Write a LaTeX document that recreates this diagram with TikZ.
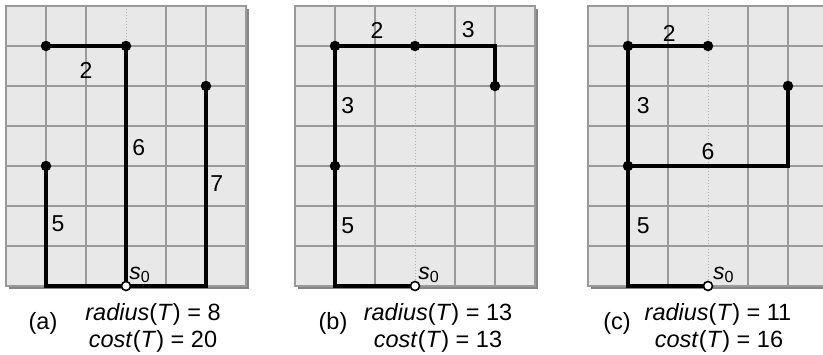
\documentclass[tikz,border=0pt]{standalone}
\usepackage{fontspec}
\setmainfont{Liberation Sans}
\definecolor{cellfill}{HTML}{E8E8E8}
\definecolor{gridgray}{HTML}{9A9A9A}
\definecolor{shadowgray}{HTML}{858585}
\definecolor{dotgray}{HTML}{B4B4B4}
\pgfdeclarelayer{gridlayer}
\pgfdeclarelayer{edgelayer}
\pgfsetlayers{gridlayer,edgelayer,main}
\tikzset{
  gridline/.style={draw=gridgray, line width=1.8pt},
  axisline/.style={draw=dotgray, line width=1pt, dotted},
  dot/.style={circle, fill=black, inner sep=0pt, minimum size=10.5pt},
  rootdot/.style={circle, draw=black, fill=white, line width=1.6pt, inner sep=0pt, minimum size=9pt},
  treeedge/.style={draw=black, line width=4.4pt},
  num/.style={font=\fontsize{23}{23}\selectfont, inner sep=0pt},
  captext/.style={font=\fontsize{23.5}{26}\selectfont, inner sep=0pt, align=center}
}
\newcommand\gridpanel{%
  \begin{pgfonlayer}{gridlayer}
    \fill[shadowgray] (0.08,0.08) rectangle (6.08,7.08);
    \fill[cellfill] (0,0) rectangle (6,7);
    \draw[axisline] (3,0) -- (3,7);
    \foreach \i in {1,2,4,5} \draw[gridline] (\i,0) -- (\i,7);
    \foreach \j in {1,...,6} \draw[gridline] (0,\j) -- (6,\j);
    \draw[gridline] (0,0) rectangle (6,7);
  \end{pgfonlayer}}
\begin{document}
\begin{tikzpicture}[x=1pt,y=-1pt]
\path[use as bounding box, clip] (0,0) rectangle (823,354);

% ---------- (a) ----------
\begin{scope}[shift={(6pt,-6pt)}, x=40pt, y=-40pt]
  \gridpanel
  \node[rootdot] (a-s) at (3,7) {};
  \node[dot] (a-u) at (1,4) {};
  \node[dot] (a-v) at (3,1) {};
  \node[dot] (a-w) at (1,1) {};
  \node[dot] (a-x) at (5,2) {};
  \coordinate (a-c1) at (1,7);
  \coordinate (a-c2) at (5,7);
  \begin{pgfonlayer}{edgelayer}
    \draw[treeedge] (a-u.center) -- (a-c1) -- (a-c2) -- (a-x.center);
    \draw[treeedge] (a-s.center) -- (a-v.center) -- (a-w.center);
  \end{pgfonlayer}
  \node[num] (a-l2) at (2.0,1.6) {2};
  \node[num] (a-l6) at (3.32,3.55) {6};
  \node[num] (a-l7) at (5.27,4.43) {7};
  \node[num] (a-l5) at (1.3,5.45) {5};
  \node[num, anchor=base west] (a-ls) at (3.08,6.83) {\textit{s}\textsubscript{0}};
\end{scope}
\node[captext] (a-tag) at (43,323) {(a)};
\node[captext] (a-rad) at (153,314) {\textit{radius}(\textit{T}) = 8};
\node[captext] (a-cost) at (153,341) {\textit{cost}(\textit{T}) = 20};

% ---------- (b) ----------
\begin{scope}[shift={(295pt,-6pt)}, x=40pt, y=-40pt]
  \gridpanel
  \node[rootdot] (b-s) at (3,7) {};
  \node[dot] (b-m) at (1,4) {};
  \node[dot] (b-t) at (1,1) {};
  \node[dot] (b-k) at (3,1) {};
  \node[dot] (b-e) at (5,2) {};
  \coordinate (b-c1) at (1,7);
  \coordinate (b-c2) at (5,1);
  \begin{pgfonlayer}{edgelayer}
    \draw[treeedge] (b-s.center) -- (b-c1) -- (b-m.center) -- (b-t.center) -- (b-k.center) -- (b-c2) -- (b-e.center);
  \end{pgfonlayer}
  \node[num] (b-l2) at (2.05,0.6) {2};
  \node[num] (b-l3a) at (4.33,0.6) {3};
  \node[num] (b-l3b) at (1.32,2.48) {3};
  \node[num] (b-l5) at (1.32,5.5) {5};
  \node[num, anchor=base west] (b-ls) at (3.08,6.83) {\textit{s}\textsubscript{0}};
\end{scope}
\node[captext] (b-tag) at (333,323) {(b)};
\node[captext] (b-rad) at (438,314) {\textit{radius}(\textit{T}) = 13};
\node[captext] (b-cost) at (438,341) {\textit{cost}(\textit{T}) = 13};

% ---------- (c) ----------
\begin{scope}[shift={(588pt,-6pt)}, x=40pt, y=-40pt]
  \gridpanel
  \node[rootdot] (c-s) at (3,7) {};
  \node[dot] (c-m) at (1,4) {};
  \node[dot] (c-t) at (1,1) {};
  \node[dot] (c-k) at (3,1) {};
  \node[dot] (c-e) at (5,2) {};
  \coordinate (c-c1) at (1,7);
  \coordinate (c-c2) at (5,4);
  \begin{pgfonlayer}{edgelayer}
    \draw[treeedge] (c-s.center) -- (c-c1) -- (c-m.center) -- (c-t.center) -- (c-k.center);
    \draw[treeedge] (c-m.center) -- (c-c2) -- (c-e.center);
  \end{pgfonlayer}
  \node[num] (c-l2) at (2.03,0.68) {2};
  \node[num] (c-l3) at (1.38,2.48) {3};
  \node[num] (c-l6) at (3.0,3.65) {6};
  \node[num] (c-l5) at (1.38,5.5) {5};
  \node[num, anchor=base west] (c-ls) at (3.12,6.83) {\textit{s}\textsubscript{0}};
\end{scope}
\node[captext] (c-tag) at (617,323) {(c)};
\node[captext] (c-rad) at (718,314) {\textit{radius}(\textit{T}) = 11};
\node[captext] (c-cost) at (719,341) {\textit{cost}(\textit{T}) = 16};
\end{tikzpicture}
\end{document}
